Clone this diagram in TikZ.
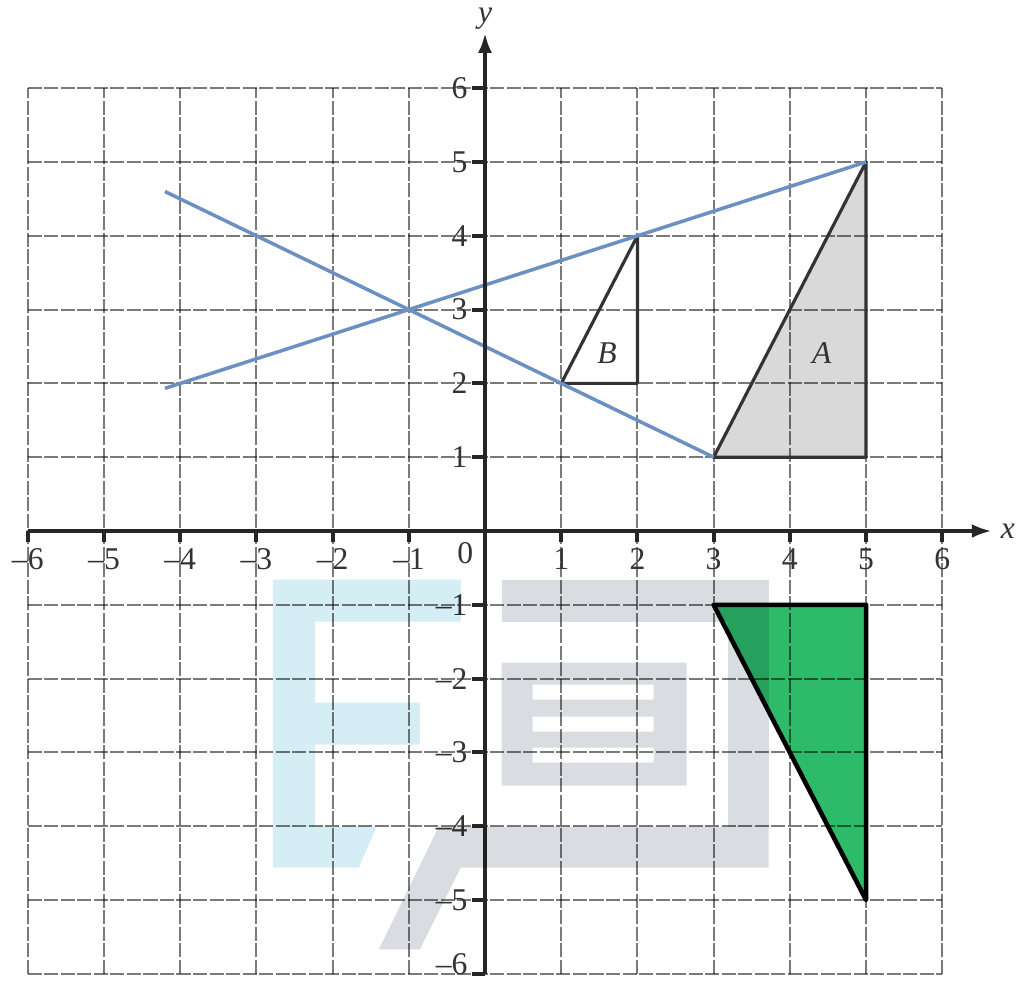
\documentclass[tikz,border=0pt]{standalone}
\usepackage{fontspec}
\setmainfont{Liberation Serif}
\usetikzlibrary{arrows.meta}
\definecolor{gridc}{HTML}{7A7A7A}
\definecolor{linec}{HTML}{6B90C4}
\definecolor{afill}{HTML}{D9D9D9}
\definecolor{gfill}{HTML}{2DBB6A}
\definecolor{wmblue}{HTML}{D5EDF4}
\definecolor{wmgray}{HTML}{D9DCE0}
\begin{document}
\begin{tikzpicture}[x=0.762cm,y=0.738cm,
  gridline/.style={gridc, line width=0.6pt, dash pattern=on 4pt off 0.7pt},
  axisline/.style={black!85, line width=1.1pt},
  tickline/.style={black!85, line width=1.1pt},
  rayline/.style={linec, line width=1pt},
  shapeedge/.style={black!80, line width=0.9pt, line join=round},
  greenedge/.style={black, line width=1.3pt, line join=round},
  ticklabel/.style={font=\fontsize{9}{10}\selectfont, inner sep=0pt, text=black!80},
  shapelabel/.style={font=\fontsize{9}{10}\selectfont\itshape, inner sep=0pt, text=black!80},
  tipstyle/.style={-{Latex[length=2mm,width=1.4mm]}}
]
\useasboundingbox (-6.365,-6.111) rectangle (6.968,7.195);
% points
\coordinate (A1) at (3,1);
\coordinate (A2) at (5,1);
\coordinate (A3) at (5,5);
\coordinate (B1) at (1,2);
\coordinate (B2) at (2,2);
\coordinate (B3) at (2,4);
\coordinate (G1) at (3,-1);
\coordinate (G2) at (5,-1);
\coordinate (G3) at (5,-5);
\coordinate (P) at (-1,3);
\coordinate (L1s) at (-4.2,4.6);
\coordinate (L2s) at (-4.2,1.9333);
\coordinate (xs) at (-6,0);
\coordinate (xe) at (6.65,0);
\coordinate (ys) at (0,-6);
\coordinate (ye) at (0,6.75);
% fills
\fill[afill] (A1) -- (A2) -- (A3) -- cycle;
\fill[white] (B1) -- (B2) -- (B3) -- cycle;
\fill[gfill] (G1) -- (G2) -- (G3) -- cycle;
% grid
\begin{scope}[blend mode=multiply]
\foreach \i in {-6,...,6} {
  \draw[gridline] (\i,-6) -- (\i,6);
  \draw[gridline] (-6,\i) -- (6,\i);
}
\end{scope}
% shape outlines
\draw[shapeedge] (A1) -- (A2) -- (A3) -- cycle;
\draw[shapeedge] (B1) -- (B2) -- (B3) -- cycle;
\draw[greenedge] (G1) -- (G2) -- (G3) -- cycle;
% rays
\draw[rayline] (L1s) -- (P) -- (B1) -- (A1);
\draw[rayline] (L2s) -- (P) -- (B3) -- (A3);
% axes
\draw[axisline, tipstyle] (xs) -- (xe);
\draw[axisline, tipstyle] (ys) -- (ye);
\foreach \k in {1,...,6} {
  \draw[tickline] (\k,0) -- (\k,-0.15);
  \draw[tickline] (-\k,0) -- (-\k,-0.15);
  \draw[tickline] (0,\k) -- (-0.17,\k);
  \draw[tickline] (0,-\k) -- (-0.17,-\k);
  \node[ticklabel] (xp\k) at (\k,-0.38) {\k};
  \node[ticklabel] (xn\k) at (-\k,-0.38) {–\k};
  \node[ticklabel, anchor=east] (yp\k) at (-0.22,\k) {\k};
}
\foreach \k in {1,...,5} {
  \node[ticklabel, anchor=east] (yn\k) at (-0.22,-\k) {–\k};
}
\node[ticklabel, anchor=east] (yn6) at (-0.22,-5.87) {–6};
\node[ticklabel] (zero) at (-0.26,-0.30) {0};
\node[shapelabel] (xlab) at (6.86,0.0) {x};
\node[shapelabel] (ylab) at (0,6.94) {y};
\node[shapelabel] (alab) at (4.42,2.41) {A};
\node[shapelabel] (blab) at (1.60,2.41) {B};
% watermark
\begin{scope}[blend mode=multiply, x=0.01cm, y=-0.01cm, shift={(-4.85cm,5.31cm)}]
\fill[wmblue] (273,580) -- (461,580) -- (461,622) -- (315,622) -- (315,703) -- (420,703) -- (420,745) -- (315,745) -- (315,827) -- (377,827) -- (359,868) -- (273,868) -- cycle;
\fill[wmgray] (502,580) rectangle (769,622);
\fill[wmgray] (728,622) rectangle (769,827);
\fill[wmgray] (439,827) -- (769,827) -- (769,868) -- (461,868) -- (420,950) -- (379,950) -- cycle;
\fill[wmgray, even odd rule] (502,663) rectangle (687,786) (533,685) rectangle (654,700) (533,717) rectangle (654,732) (533,748) rectangle (654,763);
\end{scope}
\end{tikzpicture}
\end{document}
